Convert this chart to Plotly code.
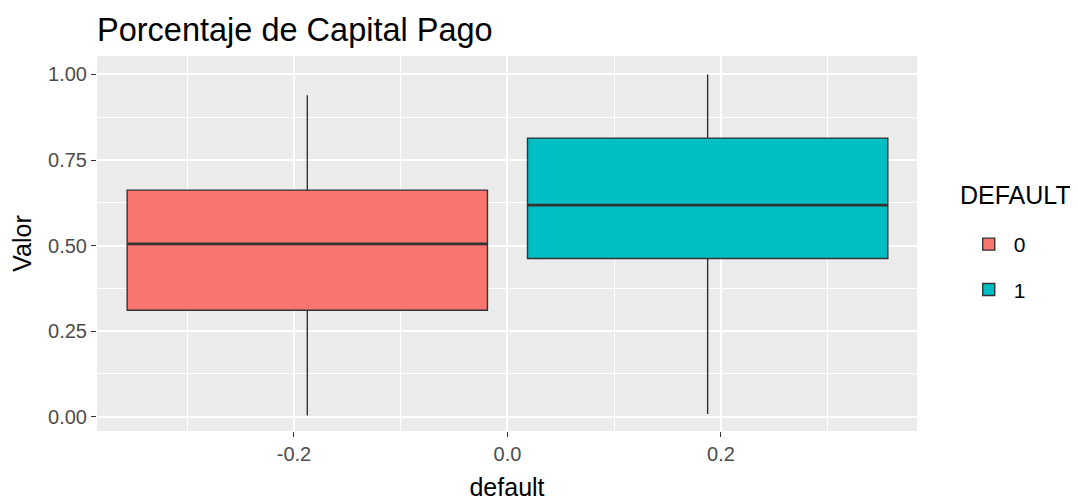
import plotly.graph_objects as go

groups = ["0", "1"]
positions = [-0.1875, 0.1875]
box_width = 0.3375
q1 = [0.311, 0.462]
median = [0.505, 0.618]
q3 = [0.662, 0.814]
lower = [0.003, 0.008]
upper = [0.939, 1.0]
colors = ["#F8766D", "#00BFC4"]

FONT = "Liberation Sans, Arial"
OFF = 8  # default page body margin

fig = go.Figure()
for i, g in enumerate(groups):
    fig.add_trace(go.Box(
        x=[positions[i]], q1=[q1[i]], median=[median[i]], q3=[q3[i]],
        lowerfence=[lower[i]], upperfence=[upper[i]],
        width=box_width, whiskerwidth=0, name=g, legendgroup=g,
        fillcolor=colors[i], line=dict(color="#333333", width=1.4),
        hoverinfo="skip",
    ))
for i, g in enumerate(groups):
    fig.add_trace(go.Scatter(
        x=[positions[i] - box_width / 2, positions[i] + box_width / 2],
        y=[median[i], median[i]], mode="lines", legendgroup=g,
        line=dict(color="#333333", width=2.8), showlegend=False, hoverinfo="skip",
    ))

axis_common = dict(
    showgrid=True, gridcolor="white", gridwidth=1.8, zeroline=False,
    ticks="outside", ticklen=5, tickcolor="#333333", tickwidth=1,
    tickfont=dict(family=FONT, size=20, color="#4D4D4D"),
    showline=False, automargin=False,
)
fig.update_layout(
    width=1078, height=502,
    paper_bgcolor="white", plot_bgcolor="#EBEBEB",
    margin=dict(l=97 - OFF, r=161 + OFF, t=56 - OFF, b=71 + OFF),
    title=dict(text="Porcentaje de Capital Pago", x=(97 - OFF) / 1078, xanchor="left",
               y=1 - (30 - OFF) / 502, yanchor="middle",
               font=dict(family=FONT, size=32.5, color="black")),
    xaxis=dict(range=[-0.3845, 0.3836], tickvals=[-0.2, 0.0, 0.2],
               ticktext=["-0.2", "0.0", "0.2"],
               minor=dict(tickvals=[-0.3, -0.1, 0.1, 0.3], showgrid=True,
                          gridcolor="white", gridwidth=0.9, ticks=""),
               title=dict(text="default", standoff=14,
                          font=dict(family=FONT, size=25, color="black")),
               **axis_common),
    yaxis=dict(range=[-0.042, 1.054], tickvals=[0, 0.25, 0.5, 0.75, 1.0],
               ticktext=["0.00", "0.25", "0.50", "0.75", "1.00"],
               minor=dict(tickvals=[0.125, 0.375, 0.625, 0.875], showgrid=True,
                          gridcolor="white", gridwidth=0.9, ticks=""),
               title=dict(text="Valor", standoff=9,
                          font=dict(family=FONT, size=25, color="black")),
               **axis_common),
    legend=dict(font=dict(family=FONT, size=21, color="black"),
                x=1.057, xanchor="left", y=(431 - 267) / 375, yanchor="middle",
                bgcolor="rgba(0,0,0,0)", tracegroupgap=15, itemwidth=40),
    annotations=[dict(text="DEFAULT", xref="paper", yref="paper",
                      x=1 + (958 - 917) / 820, xanchor="left",
                      y=(431 - 195) / 375, yanchor="middle", showarrow=False,
                      font=dict(family=FONT, size=25, color="black"))],
    showlegend=True,
)
fig.write_html("out.html")
